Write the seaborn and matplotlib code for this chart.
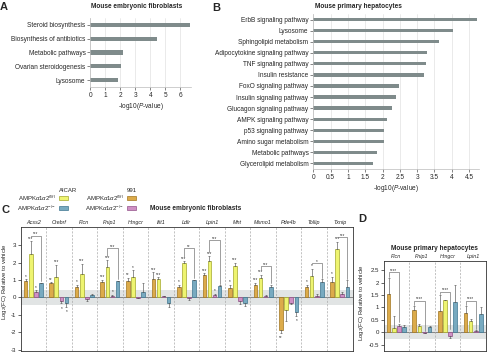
import numpy as np
import pandas as pd
import matplotlib
matplotlib.use('Agg')
import matplotlib.pyplot as plt
from matplotlib.patches import Rectangle
from matplotlib.ticker import FuncFormatter
import seaborn as sns

sns.set_style('white')
plt.rcParams['font.family'] = ['Liberation Sans', 'DejaVu Sans']
plt.rcParams['mathtext.fontset'] = 'custom'
plt.rcParams['mathtext.rm'] = 'Liberation Sans'
plt.rcParams['mathtext.it'] = 'Liberation Sans:italic'
plt.rcParams['axes.linewidth'] = 0.6

W, H = 487, 352

# --- data: pathway enrichment ---
mef_pathways = ['Steroid biosynthesis', 'Biosynthesis of antibiotics', 'Metabolic pathways',
                'Ovarian steroidogenesis', 'Lysosome']
mef_logp = [6.64, 4.47, 2.18, 2.02, 1.84]

hep_pathways = ['ErbB signaling pathway', 'Lysosome', 'Sphingolipid metabolism',
                'Adipocytokine signaling pathway', 'TNF signaling pathway', 'Insulin resistance',
                'FoxO signaling pathway', 'Insulin signaling pathway', 'Glucagon signaling pathway',
                'AMPK signaling pathway', 'p53 signaling pathway', 'Amino sugar metabolism',
                'Metabolic pathways', 'Glycerolipid metabolism']
hep_logp = [4.73, 4.03, 3.62, 3.28, 3.25, 3.19, 2.49, 2.38, 2.28, 2.14, 2.05, 2.03, 1.85, 1.72]

# --- data: qPCR, MEF ---
groups = ['991 fl/fl', 'AICAR fl/fl', '991 -/-', 'AICAR -/-']
palette = ['#dcab4a', '#eef470', '#cf90c4', '#78aac0']
edges = ['#a27620', '#a4a82c', '#93528a', '#3f7690']

mef_genes = ['Acss2', 'Crebrf', 'Flcn', 'Fnip1', 'Hmgcr', 'Ifit1', 'Ldlr', 'Lpin1', 'Mnt',
             'Msmo1', 'Pde4b', 'Tollip', 'Txnip']
mef_991_wt = [0.93, 0.82, 0.60, 0.90, 0.92, 1.03, 0.62, 1.28, 0.52, 0.72, -1.85, 0.58, 0.87]
mef_aicar_wt = [2.47, 1.15, 1.33, 1.72, 1.15, 1.03, 1.97, 2.06, 1.80, 1.10, -0.75, 1.24, 2.79]
mef_991_ko = [0.30, -0.20, -0.12, 0.08, -0.04, 0.06, -0.05, 0.15, -0.20, 0.08, -0.30, 0.05, 0.20]
mef_aicar_ko = [0.80, -0.35, 0.12, 0.93, 0.30, -0.35, 0.98, 0.63, -0.30, 0.58, -0.85, 0.88, 0.58]
mef_err_991_wt = [0.10, 0.05, 0.13, 0.12, 0.20, 0.40, 0.10, 0.10, 0.20, 0.10, 0.22, 0.15, 0.30]
mef_err_aicar_wt = [0.75, 0.70, 0.60, 0.40, 0.40, 0.12, 0.10, 0.30, 0.20, 0.20, 0.60, 0.40, 0.40]
mef_err_991_ko = [0.10, 0.15, 0.08, 0.05, 0.02, 0.03, 0.08, 0.06, 0.20, 0.03, 0.10, 0.15, 0.10]
mef_err_aicar_ko = [0.03, 0.20, 0.05, 0.03, 0.50, 0.20, 0.03, 0.06, 0.20, 0.15, 0.20, 0.15, 0.40]
mef_stars_991_wt = ['*', '**', '*', '***', '**', '***', '*', '***', '*', '***', '**', '*', '*']
mef_stars_aicar_wt = ['***', '***', '***', '***', '*', '***', '***', '***', '***', '***', '', '*', '***']
mef_stars_991_ko = ['*', '*', '', '*', '', '', '', '*', '', '', '', '', '']
mef_stars_aicar_ko = ['', '*', '', '', '', '', '', '', '', '', '*', '', '']
# brackets AICAR fl/fl vs AICAR -/-: gene, height, label
mef_br_genes = ['Acss2', 'Fnip1', 'Ldlr', 'Lpin1', 'Msmo1', 'Tollip', 'Txnip']
mef_br_height = [3.55, 2.82, 2.85, 3.3, 1.8, 1.95, 3.45]
mef_br_label = ['***', '***', '**', '***', '***', '*', '***']

# --- data: qPCR, hepatocytes ---
hep_genes = ['Flcn', 'Fnip1', 'Hmgcr', 'Lpin1']
hep_991_wt = [1.53, 0.88, 0.86, 0.77]
hep_aicar_wt = [0.16, 0.27, 1.29, 0.47]
hep_991_ko = [0.25, -0.02, -0.15, 0.05]
hep_aicar_ko = [0.22, 0.20, 1.24, 0.75]
hep_err_991_wt = [0.65, 0.17, 0.65, 0.28]
hep_err_aicar_wt = [0.50, 0.08, 0.03, 0.07]
hep_err_991_ko = [0.10, 0.02, 0.07, 0.04]
hep_err_aicar_ko = [0.07, 0.05, 0.66, 0.25]
hep_br_height = [2.42, 1.28, 1.64, 1.28]
hep_br_label = ['****', '****', '****', '****']


def fx(x):
    return x / W


def fy(y):
    return 1 - y / H


fig = plt.figure(figsize=(W / 100, H / 100), dpi=100)
BAR = '#7f8b8b'


def pathway_panel(rect, names, vals, xmax, xticks, title, tx):
    ax = fig.add_axes(rect)
    sns.barplot(x=vals, y=names, color=BAR, width=0.3, ax=ax, orient='h',
                saturation=1, linewidth=0)
    ax.set_xlim(0, xmax)
    ax.set_ylim(len(names) - 0.5, -0.5)
    ax.set_xticks(xticks)
    ax.xaxis.set_major_formatter(FuncFormatter(lambda v, p: f'{v:g}'))
    ax.xaxis.grid(True, color='#e2e2e2', lw=0.5)
    ax.set_axisbelow(True)
    for s in ['top', 'right']:
        ax.spines[s].set_visible(False)
    for s in ['left', 'bottom']:
        ax.spines[s].set_color('#bbbbbb')
        ax.spines[s].set_linewidth(0.5)
    ax.tick_params(axis='both', labelsize=4.7, length=2, width=0.5, pad=1.5,
                   color='#555555', left=True, bottom=True)
    ax.set_xlabel(r'-log10($\it{P}$-value)', fontsize=4.7, labelpad=1.5)
    ax.set_ylabel('')
    fig.text(fx(tx), fy(6), title, fontsize=4.7, weight='bold', ha='left', va='center')
    return ax


pathway_panel([fx(90.3), fy(87), 100.5 / W, 69 / H], mef_pathways, mef_logp, 6.7,
              range(0, 7), 'Mouse embryonic fibroblasts', 90.7)
pathway_panel([fx(313.3), fy(169), 165.4 / W, 155 / H], hep_pathways, hep_logp, 4.78,
              np.arange(0, 4.6, 0.5), 'Mouse primary hepatocytes', 315)


def qpcr_panel(rect, genes, series, errs, ylim, yticks, band):
    ax = fig.add_axes(rect)
    df = pd.DataFrame({
        'gene': np.tile(genes, len(groups)),
        'group': np.repeat(groups, len(genes)),
        'value': np.concatenate(series),
    })
    sns.barplot(data=df, x='gene', y='value', hue='group', hue_order=groups, palette=palette,
                errorbar=None, width=0.8, gap=0.3, legend=False, saturation=1, ax=ax, zorder=2)
    bars = sorted(ax.patches, key=lambda p: p.get_x())
    centers = np.zeros((len(groups), len(genes)))
    for k, p in enumerate(bars):
        g = k % len(groups)
        p.set_edgecolor(edges[g])
        p.set_linewidth(0.5)
        centers[g, k // len(groups)] = p.get_x() + p.get_width() / 2
    ax.axhspan(-band, band, color='#e1e4e4', zorder=0, lw=0)
    ax.axhline(0, color='#777777', lw=0.6, zorder=1)
    for i in range(len(genes) - 1):
        ax.axvline(i + 0.5, color='#aaaaaa', lw=0.5, ls=(0, (3, 2)), zorder=1)
    for g in range(len(groups)):
        for i in range(len(genes)):
            v, e = series[g][i], errs[g][i]
            yerr = [[0], [e]] if v >= 0 else [[e], [0]]
            ax.errorbar(centers[g, i], v, yerr=yerr, fmt='none', ecolor='#555555',
                        elinewidth=0.45, capsize=0.9, capthick=0.45, zorder=3)
    ax.set_xlim(-0.5, len(genes) - 0.5)
    ax.set_ylim(*ylim)
    ax.set_yticks(yticks)
    ax.yaxis.set_major_formatter(FuncFormatter(lambda v, p: f'{v:g}'))
    ax.xaxis.set_ticks_position('top')
    ax.tick_params(axis='x', length=0, pad=1.5, labelsize=3.9)
    ax.tick_params(axis='y', length=2, width=0.5, pad=1, labelsize=4.4, left=True)
    for lbl in ax.get_xticklabels():
        lbl.set_style('italic')
    ax.set_xlabel('')
    ax.set_ylabel(r'Log$_2$(FC) Relative to vehicle', fontsize=4.3)
    for s in ax.spines.values():
        s.set_color('#333333')
        s.set_linewidth(0.6)
    return ax, centers


def star(ax, x, v, e, txt, pad):
    if not txt:
        return
    if v >= 0:
        ax.text(x, v + e + pad * 0.3, txt, ha='center', va='bottom', fontsize=3.3, color='#333333')
    else:
        ax.text(x, v - e - pad, txt, ha='center', va='top', fontsize=3.3, color='#333333')


def bracket(ax, x1, x2, y, y1, y2, txt, pad):
    ax.plot([x1, x1, x2, x2], [y1, y, y, y2], color='#777777', lw=0.5, zorder=3)
    ax.text((x1 + x2) / 2, y - pad * 0.4, txt, ha='center', va='bottom', fontsize=3.3, color='#333333')


# panel C
mef_series = [mef_991_wt, mef_aicar_wt, mef_991_ko, mef_aicar_ko]
mef_errs = [mef_err_991_wt, mef_err_aicar_wt, mef_err_991_ko, mef_err_aicar_ko]
mef_stars = [mef_stars_991_wt, mef_stars_aicar_wt, mef_stars_991_ko, mef_stars_aicar_ko]
axc, cc = qpcr_panel([fx(20.5), fy(351), 332 / W, 124 / H], mef_genes, mef_series, mef_errs,
                     (-3.08, 4.04), range(-3, 4), 0.45)
axc.yaxis.set_label_coords(-0.034, 0.56)
for g in range(4):
    for i in range(len(mef_genes)):
        star(axc, cc[g, i], mef_series[g][i], mef_errs[g][i], mef_stars[g][i], 0.12)
for gname, h, lab in zip(mef_br_genes, mef_br_height, mef_br_label):
    i = mef_genes.index(gname)
    y1 = mef_aicar_wt[i] + mef_err_aicar_wt[i] + 0.25
    y2 = max(mef_aicar_ko[i], 0) + mef_err_aicar_ko[i] + 0.1
    bracket(axc, cc[1, i], cc[3, i], h, min(y1, h), y2, lab, 0.12)

# panel D
hep_series = [hep_991_wt, hep_aicar_wt, hep_991_ko, hep_aicar_ko]
hep_errs = [hep_err_991_wt, hep_err_aicar_wt, hep_err_991_ko, hep_err_aicar_ko]
axd, cd = qpcr_panel([fx(383.5), fy(351), 102.5 / W, 90 / H], hep_genes, hep_series, hep_errs,
                     (-0.75, 2.87), [-0.5, 0, 0.5, 1, 1.5, 2, 2.5], 0.28)
axd.yaxis.set_label_coords(-0.17, 0.54)
for i in range(len(hep_genes)):
    y1 = hep_991_wt[i] + hep_err_991_wt[i] + 0.05
    y2 = max(hep_991_ko[i], 0) + hep_err_991_ko[i] + 0.05
    bracket(axd, cd[0, i], cd[2, i], hep_br_height[i], min(y1, hep_br_height[i]), y2,
            hep_br_label[i], 0.06)
axd.text(0.5, 1 + 13 / 90, 'Mouse primary hepatocytes', transform=axd.transAxes,
         ha='center', va='center', fontsize=4.7, weight='bold')

# legend for C
leg_labels = [r'AMPK$\alpha$1$\alpha$2$^{fl/fl}$', r'AMPK$\alpha$1$\alpha$2$^{-/-}$']
for col, (sx, heads, cols) in enumerate([(59, 'AICAR', [1, 3]), (127, '991', [0, 2])]):
    fig.text(fx(sx), fy(190), heads, fontsize=4.3, ha='left', va='center')
    for r, (yy, gi) in enumerate(zip([198, 208], cols)):
        fig.text(fx(sx - 2.5), fy(yy), leg_labels[r], fontsize=4.3, ha='right', va='center')
        fig.add_artist(Rectangle((fx(sx), fy(yy + 2)), 8.5 / W, 4 / H, transform=fig.transFigure,
                                 facecolor=palette[gi], edgecolor=edges[gi], lw=0.5))
fig.text(fx(150), fy(208), 'Mouse embryonic fibroblasts', fontsize=4.7, weight='bold',
         ha='left', va='center')

# panel letters
for lab, x, y in [('A', 4, 7), ('B', 216, 8), ('C', 5, 210), ('D', 362, 219)]:
    fig.text(fx(x), fy(y), lab, fontsize=8, weight='bold', ha='center', va='center')

fig.savefig('out.png', dpi=100)
